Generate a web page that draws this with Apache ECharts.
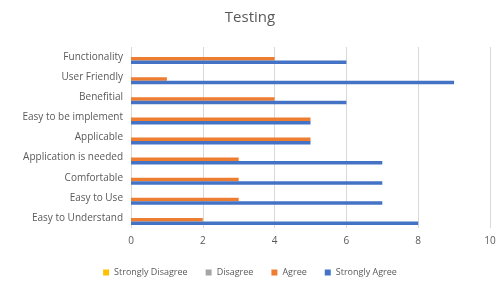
<!DOCTYPE html>
<html>
<head>
<meta charset="utf-8">
<script src="https://cdn.jsdelivr.net/npm/echarts@6/dist/echarts.min.js"></script>
<style>
  html, body { margin: 0; padding: 0; background: #fff; }
  #chart { width: 500px; height: 286px; }
</style>
</head>
<body>
<div id="chart"></div>
<script>
// categories, bottom to top
var categories = ['Easy to Understand', 'Easy to Use', 'Comfortable', 'Application is needed',
  'Applicable', 'Easy to be implement', 'Benefitial', 'User Friendly', 'Functionality'];
var stronglyDisagree = [0, 0, 0, 0, 0, 0, 0, 0, 0];
var disagree = [0, 0, 0, 0, 0, 0, 0, 0, 0];
var agree = [2, 3, 3, 3, 5, 5, 4, 1, 4];
var stronglyAgree = [8, 7, 7, 7, 5, 5, 6, 9, 6];
var xTicks = [0, 2, 4, 6, 8, 10];

var myChart = echarts.init(document.getElementById('chart'));

function bar(name, data, color) {
  return {
    name: name,
    type: 'bar',
    data: data,
    barWidth: 3.5,
    barGap: '0%',
    itemStyle: { color: color }
  };
}

myChart.setOption({
  animation: false,
  title: {
    text: 'Testing',
    left: 'center',
    top: 5,
    textStyle: { fontFamily: 'Open Sans', fontSize: 15, fontWeight: 'normal', color: '#595959' }
  },
  legend: {
    bottom: 4,
    left: 'center',
    itemWidth: 6,
    itemHeight: 6,
    itemGap: 18,
    icon: 'rect',
    textStyle: { fontFamily: 'Open Sans', fontSize: 9, color: '#595959' },
    data: ['Strongly Disagree', 'Disagree', 'Agree', 'Strongly Agree']
  },
  grid: { left: 131, right: 10, top: 47, bottom: 58 },
  xAxis: {
    type: 'value',
    min: xTicks[0],
    max: xTicks[xTicks.length - 1],
    interval: 2,
    axisLine: { show: false },
    axisTick: { show: false },
    axisLabel: { fontFamily: 'Open Sans', fontSize: 10, color: '#595959', margin: 8 },
    splitLine: { lineStyle: { color: '#d9d9d9' } }
  },
  yAxis: {
    type: 'category',
    data: categories,
    axisLine: { show: false },
    axisTick: { show: false },
    axisLabel: { fontFamily: 'Open Sans', fontSize: 10, color: '#595959', margin: 8 }
  },
  series: [
    bar('Strongly Disagree', stronglyDisagree, '#FFC000'),
    bar('Disagree', disagree, '#A5A5A5'),
    bar('Agree', agree, '#ED7D31'),
    bar('Strongly Agree', stronglyAgree, '#4472C4')
  ]
});
</script>
</body>
</html>
